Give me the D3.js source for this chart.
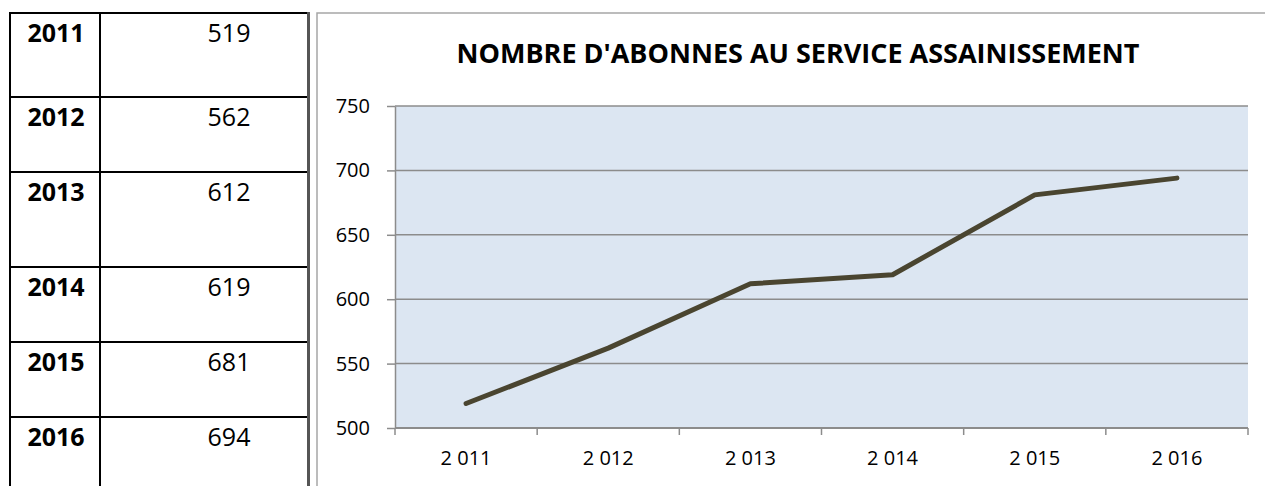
<!DOCTYPE html>
<html>
<head>
<meta charset="utf-8">
<script src="https://cdn.jsdelivr.net/npm/d3@7"></script>
<style>
  body { margin: 0; background: #fff; }
  svg { display: block; font-family: "Open Sans", "Liberation Sans", sans-serif; }
</style>
</head>
<body>
<svg id="page"></svg>
<script>
// data
const years = ["2011", "2012", "2013", "2014", "2015", "2016"];
const yearLabels = ["2 011", "2 012", "2 013", "2 014", "2 015", "2 016"];
const abonnes = [519, 562, 612, 619, 681, 694];
const yTicks = [500, 550, 600, 650, 700, 750];
const chartTitle = "NOMBRE D'ABONNES AU SERVICE ASSAINISSEMENT";

// layout
const W = 1265, H = 486;
const table = { left: 10, split: 100, right: 307, top: 13, rowHeights: [84, 75, 95, 75, 75, 75] };
const chart = { left: 317, top: 13 };
const plot = { left: 395, right: 1248, top: 106, bottom: 428 };

const svg = d3.select("#page").attr("width", W).attr("height", H);

// ---- table on the left ----
const tg = svg.append("g");
let rowTops = [];
let acc = table.top;
table.rowHeights.forEach(h => { rowTops.push(acc); acc += h; });

rowTops.forEach((y, i) => {
  tg.append("line")
    .attr("x1", table.left).attr("x2", table.right)
    .attr("y1", y).attr("y2", y)
    .attr("stroke", "#000").attr("stroke-width", 2);

  tg.append("text")
    .attr("x", 56)
    .attr("y", y + 29)
    .attr("text-anchor", "middle")
    .style("font-size", "25px")
    .style("font-weight", "bold")
    .text(years[i]);

  tg.append("text")
    .attr("x", 229)
    .attr("y", y + 29)
    .attr("text-anchor", "middle")
    .style("font-size", "25px")
    .text(abonnes[i]);
});

[table.left, table.split].forEach(x => {
  tg.append("line")
    .attr("x1", x).attr("x2", x)
    .attr("y1", table.top - 1).attr("y2", H)
    .attr("stroke", "#000").attr("stroke-width", 2);
});

tg.append("line")
  .attr("x1", table.right + 1.5).attr("x2", table.right + 1.5)
  .attr("y1", table.top - 1).attr("y2", H)
  .attr("stroke", "#555").attr("stroke-width", 3);

// ---- chart frame ----
svg.append("path")
  .attr("d", `M${chart.left},${H} V${chart.top} H${W}`)
  .attr("fill", "none")
  .attr("stroke", "#a6a6a6")
  .attr("stroke-width", 1.5);

svg.append("text")
  .attr("x", 798)
  .attr("y", 63)
  .attr("text-anchor", "middle")
  .style("font-size", "27px")
  .style("font-weight", "bold")
  .text(chartTitle);

// ---- scales ----
const x = d3.scaleBand().domain(years).range([plot.left, plot.right]).padding(0);
const y = d3.scaleLinear().domain([500, 750]).range([plot.bottom, plot.top]);

svg.append("rect")
  .attr("x", plot.left).attr("y", plot.top)
  .attr("width", plot.right - plot.left)
  .attr("height", plot.bottom - plot.top)
  .attr("fill", "#dce6f2");

// gridlines
svg.append("g")
  .selectAll("line")
  .data(yTicks.filter(d => d > 500))
  .join("line")
  .attr("x1", plot.left).attr("x2", plot.right)
  .attr("y1", d => y(d)).attr("y2", d => y(d))
  .attr("stroke", "#8c8c8c").attr("stroke-width", 1.5);

// y axis
const yAxisG = svg.append("g")
  .attr("transform", `translate(${plot.left},0)`)
  .call(d3.axisLeft(y).tickValues(yTicks).tickSize(8).tickSizeOuter(0).tickPadding(17));
yAxisG.select(".domain").attr("stroke", "#8c8c8c").attr("stroke-width", 1.5);
yAxisG.selectAll(".tick line").attr("stroke", "#8c8c8c").attr("stroke-width", 1.5);
yAxisG.selectAll("text")
  .style("font-size", "20px")
  .style("font-family", "'Open Sans', sans-serif")
  .attr("fill", "#000");

// x axis: ticks at category boundaries
const xAxisG = svg.append("g")
  .attr("transform", `translate(0,${plot.bottom})`);
xAxisG.append("line")
  .attr("x1", plot.left).attr("x2", plot.right)
  .attr("stroke", "#8c8c8c").attr("stroke-width", 2);
xAxisG.selectAll(".bound")
  .data(years)
  .join("line")
  .attr("class", "bound")
  .attr("x1", d => x(d) + x.bandwidth()).attr("x2", d => x(d) + x.bandwidth())
  .attr("y1", 0).attr("y2", 7)
  .attr("stroke", "#8c8c8c").attr("stroke-width", 1.5);
xAxisG.append("line")
  .attr("x1", plot.left).attr("x2", plot.left)
  .attr("y1", 0).attr("y2", 7)
  .attr("stroke", "#8c8c8c").attr("stroke-width", 1.5);
xAxisG.selectAll("text")
  .data(years)
  .join("text")
  .attr("x", d => x(d) + x.bandwidth() / 2)
  .attr("y", 37)
  .attr("text-anchor", "middle")
  .style("font-size", "20px")
  .text((d, i) => yearLabels[i]);

// line
const line = d3.line()
  .x((d, i) => x(years[i]) + x.bandwidth() / 2)
  .y(d => y(d));

svg.append("path")
  .datum(abonnes)
  .attr("d", line)
  .attr("fill", "none")
  .attr("stroke", "#4a4530")
  .attr("stroke-width", 5)
  .attr("stroke-linecap", "round")
  .attr("stroke-linejoin", "round");
</script>
</body>
</html>
